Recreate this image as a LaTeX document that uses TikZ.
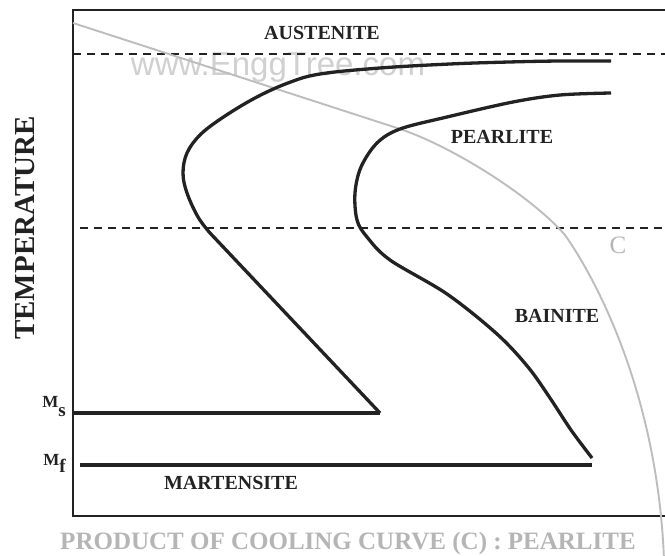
\documentclass[tikz,border=0pt]{standalone}
\usepackage{fontspec}
\setmainfont{Liberation Serif}
\newfontfamily\wmfont{Liberation Sans}
\definecolor{curvegray}{HTML}{BDBDBD}
\definecolor{textgray}{HTML}{B5B5B5}
\definecolor{wmgray}{HTML}{D0D0D0}
\definecolor{ink}{HTML}{222222}
\begin{document}
\begin{tikzpicture}[x=1pt,y=-1pt,
  lbl/.style={font=\fontsize{20}{24}\selectfont\bfseries, text=ink, inner sep=0pt},
  mlbl/.style={font=\fontsize{17}{20}\selectfont\bfseries, text=ink, anchor=base east, inner sep=0pt},
  frameline/.style={line width=2.6pt, draw=ink},
  tline/.style={line width=3.3pt, draw=ink, line join=round},
  dashline/.style={line width=2.8pt, draw=ink, dash pattern=on 8pt off 6pt},
  coolline/.style={line width=1.9pt, draw=curvegray}]
\useasboundingbox (0,0) rectangle (665,556);
\fill[white] (0,0) rectangle (665,556);
% watermark
\node[font=\wmfont\fontsize{33}{36}\selectfont, text=wmgray, anchor=base, inner sep=0pt] (wm) at (278,76) {www.EnggTree.com};
% frame
\coordinate (tr) at (668,10);
\coordinate (tl) at (73,10);
\coordinate (bl) at (73,516);
\coordinate (br) at (668,516);
\draw[frameline] (tr) -- (tl) -- (bl) -- (br);
% dashed lines
\coordinate (d1a) at (73,54);
\coordinate (d1b) at (668,54);
\coordinate (d2a) at (80,228);
\coordinate (d2b) at (668,228);
\draw[dashline] (d1a) -- (d1b);
\draw[dashline] (d2a) -- (d2b);
% cooling curve
\coordinate (c0) at (73,23);
\coordinate (c1) at (397,128);
\coordinate (c2) at (565,235);
\coordinate (c3) at (664,560);
\draw[coolline] (c0) -- (c1) .. controls (450,145) and (530,195) .. (c2) .. controls (600,285) and (658,400) .. (c3);
% first C-curve
\coordinate (tip1) at (380,413);
\draw[tline] plot[smooth, tension=0.6] coordinates {(611,61) (560,61) (509,62) (450,64) (380,68) (320,74) (288,83) (255,98) (222,118) (200,135) (187,153) (183,173) (187,193) (198,217) (210,233)} -- (tip1);
% second C-curve
\draw[tline] plot[smooth, tension=0.55] coordinates {(611,93) (560,95) (513,102) (447,117) (400,129) (377,143) (361,167) (355,193) (357,220) (367,237) (390,260) (447,294) (497,334) (528,367) (550,398) (571,430) (592,458)};
% Ms and Mf lines
\coordinate (msa) at (73,413);
\coordinate (mfa) at (80,465);
\coordinate (mfb) at (592,465);
\draw[tline] (msa) -- (tip1);
\draw[tline] (mfa) -- (mfb);
% labels
\node[lbl] (aus) at (322,33) {AUSTENITE};
\node[lbl] (pea) at (502,137) {PEARLITE};
\node[lbl] (bai) at (557,316) {BAINITE};
\node[lbl] (mar) at (231,483) {MARTENSITE};
\node[font=\fontsize{25}{28}\selectfont, text=textgray, inner sep=0pt] (c) at (618,245) {C};
\node[font=\fontsize{29}{32}\selectfont\bfseries, text=ink, rotate=90, inner sep=0pt] (temp) at (25,228) {TEMPERATURE};
\node[mlbl] (ms) at (66,408) {M\raisebox{-9pt}{\fontsize{19}{20}\selectfont s}};
\node[mlbl] (mf) at (66,465) {M\raisebox{-8pt}{\fontsize{19}{20}\selectfont f}};
\node[font=\fontsize{25}{28}\selectfont\bfseries, text=textgray, inner sep=0pt] (prod) at (348,543) {PRODUCT OF COOLING CURVE (C) : PEARLITE};
\end{tikzpicture}
\end{document}
